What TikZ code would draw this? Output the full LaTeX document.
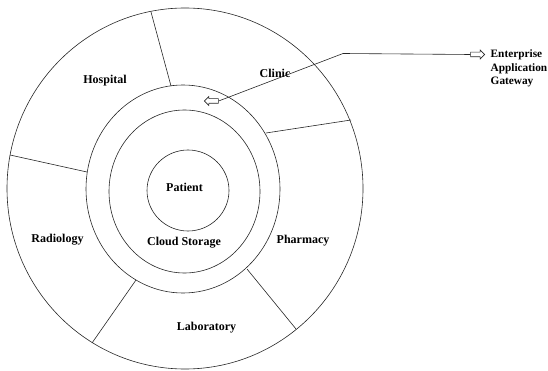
\documentclass[tikz,border=0pt]{standalone}
\usepackage{fontspec}
\setmainfont{Liberation Serif}
\usetikzlibrary{shapes.arrows}
\begin{document}
\begin{tikzpicture}[x=1pt,y=-1pt,
  ring/.style={draw=black!85,line width=0.6pt},
  divider/.style={draw=black!85,line width=0.6pt},
  lbl/.style={font=\bfseries\fontsize{12}{13.5}\selectfont,inner sep=0pt},
  hollowarrow/.style={single arrow,draw=black!85,fill=white,line width=0.6pt,
    minimum height=14pt,inner xsep=0pt,inner ysep=2pt,
    single arrow head extend=2.2pt,single arrow head indent=0pt},
  link/.style={draw=black!85,line width=0.6pt}]
\useasboundingbox (0,0) rectangle (548,371);
% rings
\draw[ring] (185,188.5) ellipse [x radius=178,y radius=180.5];
\draw[ring] (183,189) ellipse [x radius=97,y radius=104];
\draw[ring] (184.5,191.5) ellipse [x radius=75.5,y radius=81.5];
\draw[ring] (188,190.5) ellipse [x radius=41,y radius=40.5];
% dividers
\draw[divider] (151,12) -- (171,86);
\draw[divider] (10,155) -- (87,172);
\draw[divider] (351,120) -- (266,133);
\draw[divider] (92,343) -- (136,280);
\draw[divider] (296,329) -- (247,269);
% labels
\node[lbl] (hospital) at (105,81) {Hospital};
\node[lbl] (clinic) at (275,73) {Clinic};
\node[lbl] (patient) at (184.5,187.5) {Patient};
\node[lbl] (cloud) at (184,243) {Cloud Storage};
\node[lbl] (radiology) at (57.5,239.5) {Radiology};
\node[lbl] (pharmacy) at (303,241) {Pharmacy};
\node[lbl] (lab) at (206.5,327.5) {Laboratory};
\node[lbl,font=\bfseries\fontsize{11.3}{13.5}\selectfont,anchor=west,align=left] (gateway) at (490.5,68.5) {Enterprise\\Application\\Gateway};
% arrows
\node[hollowarrow,shape border rotate=0] (gwarrow) at (476.5,54.5) {};
\node[hollowarrow,shape border rotate=201] (inarrow) at (212.5,101) {};
\coordinate (bend) at (343,53.5);
\draw[link] (inarrow.tail) -- (bend) -- (gwarrow.tail);
\end{tikzpicture}
\end{document}
